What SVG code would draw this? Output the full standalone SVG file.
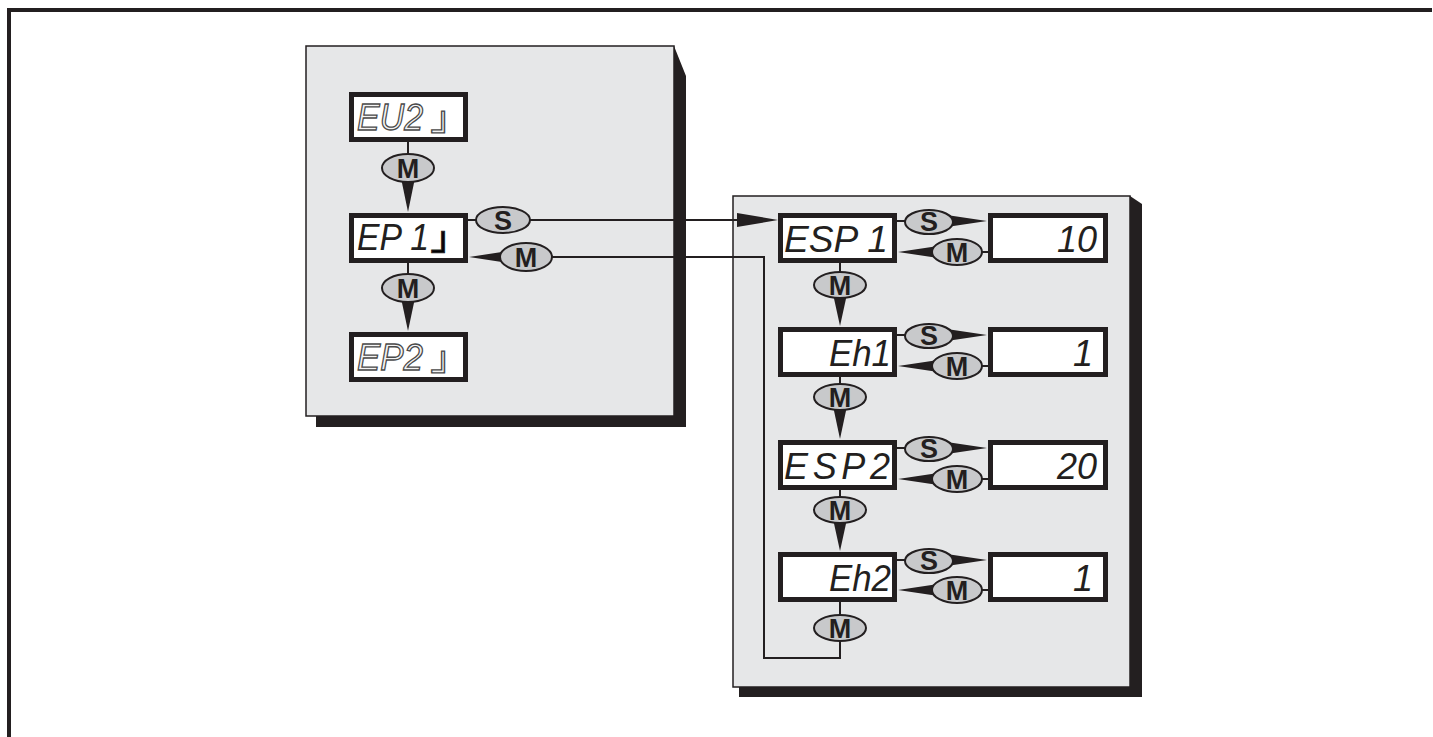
<svg xmlns="http://www.w3.org/2000/svg" width="1433" height="737" viewBox="0 0 1433 737">
<defs>
<style>
.frame{fill:none;stroke:#231f20;stroke-width:4}
.panel{fill:#e6e7e8;stroke:#231f20;stroke-width:1.5}
.shadow{fill:#231f20}
.box{fill:#fff;stroke:#231f20;stroke-width:5}
.line{fill:none;stroke:#231f20;stroke-width:2}
.arr{fill:#231f20}
.key{fill:#c8c9cb;stroke:#231f20;stroke-width:2}
.kt{font-family:"Liberation Sans",Arial,sans-serif;font-weight:bold;font-size:27px;fill:#231f20;text-anchor:middle}
.seg{font-family:"Liberation Sans",Arial,sans-serif;font-style:italic;font-size:36px;fill:#231f20}
.ghost{fill:#f4f4f4;stroke:#4a4a4a;stroke-width:1.3}
.cor{font-family:"DejaVu Sans Mono",monospace;font-size:34px}
</style>
</defs>
<path class="frame" d="M9,737 V10 H1432"/>

<g id="panel-left">
<rect class="panel" x="306" y="46" width="368" height="370"/>
<polygon class="shadow" points="674,46 686,76 686,427 316,427 316,416 674,416"/>
</g>
<g id="panel-right">
<rect class="panel" x="733" y="196" width="397" height="491"/>
<polygon class="shadow" points="1130,196 1142,204 1142,697 739,697 739,687 1130,687"/>
</g>

<g id="connectors">
<line class="line" x1="408" y1="142" x2="408" y2="160"/>
<polygon class="arr" points="401,178 415,178 408,212"/>
<line class="line" x1="408" y1="263" x2="408" y2="280"/>
<polygon class="arr" points="401,298 415,298 408,331"/>
<line class="line" x1="468" y1="220" x2="740" y2="220"/>
<polygon class="arr" points="737,213 737,227 778,220"/>
<polygon class="arr" points="515,250 515,264 469,257"/>
<path class="line" d="M540,257 H764 V658 H840 V636"/>
<line class="line" x1="840" y1="263" x2="840" y2="278"/>
<polygon class="arr" points="833,294 847,294 840,326"/>
<line class="line" x1="840" y1="376" x2="840" y2="390"/>
<polygon class="arr" points="833,406 847,406 840,439"/>
<line class="line" x1="840" y1="489" x2="840" y2="503"/>
<polygon class="arr" points="833,519 847,519 840,551"/>
<line class="line" x1="840" y1="601" x2="840" y2="620"/>

<line class="line" x1="897" y1="221" x2="910" y2="221"/>
<polygon class="arr" points="940,214 940,228 987,221"/>
<polygon class="arr" points="945,245 945,259 898,252"/>
<line class="line" x1="975" y1="252" x2="988" y2="252"/>

<line class="line" x1="897" y1="335" x2="910" y2="335"/>
<polygon class="arr" points="940,328 940,342 987,335"/>
<polygon class="arr" points="945,359 945,373 898,366"/>
<line class="line" x1="975" y1="366" x2="988" y2="366"/>

<line class="line" x1="897" y1="448" x2="910" y2="448"/>
<polygon class="arr" points="940,441 940,455 987,448"/>
<polygon class="arr" points="945,472 945,486 898,479"/>
<line class="line" x1="975" y1="479" x2="988" y2="479"/>

<line class="line" x1="897" y1="560" x2="910" y2="560"/>
<polygon class="arr" points="940,553 940,567 987,560"/>
<polygon class="arr" points="945,583 945,597 898,590"/>
<line class="line" x1="975" y1="590" x2="988" y2="590"/>
</g>

<g id="key-m1"><ellipse class="key" cx="408" cy="168" rx="26" ry="14"/><text class="kt" x="408" y="178">M</text></g>
<g id="key-m2"><ellipse class="key" cx="408" cy="288" rx="26" ry="14"/><text class="kt" x="408" y="298">M</text></g>
<g id="key-s-ep1"><ellipse class="key" cx="503" cy="220" rx="27" ry="13"/><text class="kt" x="503" y="230">S</text></g>
<g id="key-m-ret"><ellipse class="key" cx="526" cy="257" rx="26" ry="14"/><text class="kt" x="526" y="267">M</text></g>

<g id="key-m3"><ellipse class="key" cx="840" cy="285" rx="26" ry="13"/><text class="kt" x="840" y="295">M</text></g>
<g id="key-m4"><ellipse class="key" cx="840" cy="397" rx="26" ry="13"/><text class="kt" x="840" y="407">M</text></g>
<g id="key-m5"><ellipse class="key" cx="840" cy="510" rx="26" ry="13"/><text class="kt" x="840" y="520">M</text></g>
<g id="key-m6"><ellipse class="key" cx="840" cy="628" rx="26" ry="13"/><text class="kt" x="840" y="638">M</text></g>

<g id="key-s-r1"><ellipse class="key" cx="929" cy="222" rx="24" ry="12"/><text class="kt" x="929" y="231">S</text></g>
<g id="key-m-r1"><ellipse class="key" cx="957" cy="252" rx="25" ry="13"/><text class="kt" x="957" y="262">M</text></g>
<g id="key-s-r2"><ellipse class="key" cx="929" cy="336" rx="24" ry="12"/><text class="kt" x="929" y="345">S</text></g>
<g id="key-m-r2"><ellipse class="key" cx="957" cy="366" rx="25" ry="13"/><text class="kt" x="957" y="376">M</text></g>
<g id="key-s-r3"><ellipse class="key" cx="929" cy="449" rx="24" ry="12"/><text class="kt" x="929" y="458">S</text></g>
<g id="key-m-r3"><ellipse class="key" cx="957" cy="479" rx="25" ry="13"/><text class="kt" x="957" y="489">M</text></g>
<g id="key-s-r4"><ellipse class="key" cx="929" cy="561" rx="24" ry="12"/><text class="kt" x="929" y="570">S</text></g>
<g id="key-m-r4"><ellipse class="key" cx="957" cy="590" rx="25" ry="13"/><text class="kt" x="957" y="600">M</text></g>

<g id="disp-eu2">
<rect class="box" x="351.5" y="94.5" width="114" height="45"/>
<text class="seg ghost" x="357" y="130" textLength="66" lengthAdjust="spacingAndGlyphs">EU2</text>
<text class="cor ghost" x="432" y="143" textLength="22" lengthAdjust="spacingAndGlyphs">┘</text>
</g>
<g id="disp-ep1">
<rect class="box" x="351.5" y="215.5" width="114" height="45"/>
<text class="seg" x="357" y="250" textLength="72" lengthAdjust="spacingAndGlyphs">EP 1</text>
<text class="cor" x="432" y="263" textLength="22" lengthAdjust="spacingAndGlyphs" stroke="#231f20" stroke-width="1">┘</text>
</g>
<g id="disp-ep2">
<rect class="box" x="351.5" y="334.5" width="114" height="45"/>
<text class="seg ghost" x="357" y="370" textLength="66" lengthAdjust="spacingAndGlyphs">EP2</text>
<text class="cor ghost" x="432" y="383" textLength="22" lengthAdjust="spacingAndGlyphs">┘</text>
</g>

<g id="disp-esp1">
<rect class="box" x="780.5" y="215.5" width="114" height="45"/>
<text class="seg" x="784" y="252" textLength="104" lengthAdjust="spacingAndGlyphs">ESP 1</text>
</g>
<g id="val-10">
<rect class="box" x="990.5" y="215.5" width="115" height="45"/>
<text class="seg" x="1097" y="252" text-anchor="end">10</text>
</g>
<g id="disp-eh1">
<rect class="box" x="780.5" y="329.5" width="114" height="45"/>
<text class="seg" x="829" y="366" textLength="62" lengthAdjust="spacingAndGlyphs">Eh1</text>
</g>
<g id="val-1a">
<rect class="box" x="990.5" y="329.5" width="115" height="45"/>
<text class="seg" x="1093" y="366" text-anchor="end">1</text>
</g>
<g id="disp-esp2">
<rect class="box" x="780.5" y="442.5" width="114" height="45"/>
<text class="seg" x="784" y="479" textLength="106" lengthAdjust="spacing">ESP2</text>
</g>
<g id="val-20">
<rect class="box" x="990.5" y="442.5" width="115" height="45"/>
<text class="seg" x="1097" y="479" text-anchor="end">20</text>
</g>
<g id="disp-eh2">
<rect class="box" x="780.5" y="554.5" width="114" height="45"/>
<text class="seg" x="829" y="591" textLength="62" lengthAdjust="spacingAndGlyphs">Eh2</text>
</g>
<g id="val-1b">
<rect class="box" x="990.5" y="554.5" width="115" height="45"/>
<text class="seg" x="1093" y="591" text-anchor="end">1</text>
</g>
</svg>
